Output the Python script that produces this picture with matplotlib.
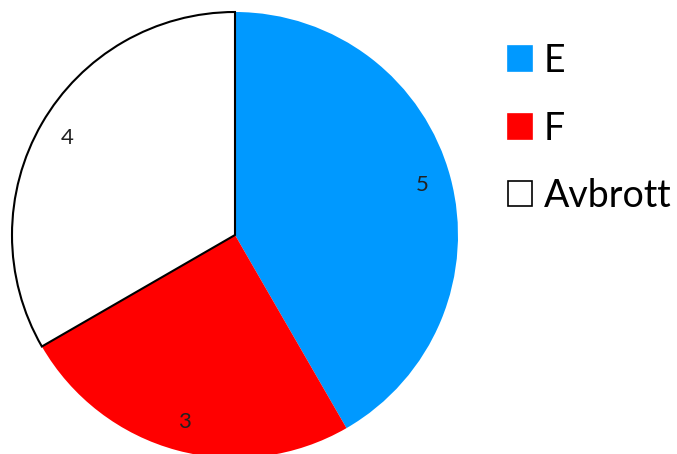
import matplotlib
matplotlib.use("Agg")
import matplotlib.pyplot as plt
from matplotlib.patches import Patch

categories = ["E", "F", "Avbrott"]
values = [5, 3, 4]
colors = ["#0099FF", "#FF0000", "#FFFFFF"]
edges = ["none", "none", "black"]

plt.rcParams['font.family'] = ['Lato', 'DejaVu Sans']

W, H = 677, 454
fig = plt.figure(figsize=(W / 100, H / 100), dpi=100)
ax = fig.add_axes([0, 0, 1, 1])

total = sum(values)
wedges, texts, autotexts = ax.pie(
    values, colors=colors, startangle=90, counterclock=False,
    center=(235, H - 235), radius=223,
    autopct=lambda p: f"{round(p * total / 100)}", pctdistance=0.87,
    textprops={'fontsize': 16, 'color': '#222222'},
    frame=True)
for w, ec in zip(wedges, edges):
    w.set_edgecolor(ec)
    w.set_linewidth(1.5)
ax.set_xlim(0, W)
ax.set_ylim(0, H)
ax.set_aspect('auto')
ax.axis('off')

handles = [Patch(facecolor=c, edgecolor=('black' if e != 'none' else c), linewidth=1.2)
           for c, e in zip(colors, edges)]
fig.legend(handles, categories, loc='upper left', bbox_to_anchor=(493 / W, 1 - 28 / H),
           frameon=False, fontsize=27, handlelength=0.64, handleheight=0.64,
           handletextpad=0.32, labelspacing=0.84, borderaxespad=0)

fig.savefig("out.png", dpi=100)
